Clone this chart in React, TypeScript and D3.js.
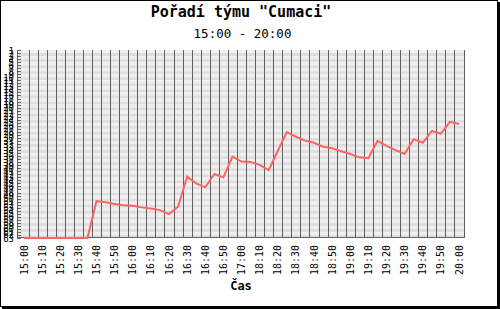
import React from "react";
import * as d3 from "d3";

const categories = [
  "15:00","15:05","15:10","15:15","15:20","15:25","15:30","15:35","15:40","15:45",
  "15:50","15:55","16:00","16:05","16:10","16:15","16:20","16:25","16:30","16:35",
  "16:40","16:45","16:50","16:55","17:00","18:05","18:10","18:15","18:20","18:25",
  "18:30","18:35","18:40","18:45","18:50","18:55","19:00","19:05","19:10","19:15",
  "19:20","19:25","19:30","19:35","19:40","19:45","19:50","19:55","20:00",
];

const rankValues = [
  63, 63, 63, 63, 63, 63, 63, 63, 50.8, 51.2,
  51.8, 52.2, 52.4, 52.9, 53.3, 53.8, 55.1, 52.7, 42.8, 45,
  46.3, 41.9, 43, 36.2, 37.8, 37.9, 38.9, 40.6, 34.3, 28.1,
  29.6, 30.9, 31.6, 32.9, 33.4, 34.4, 35.3, 36.4, 36.7, 31,
  32.6, 34, 35.3, 30.4, 31.6, 27.7, 28.6, 24.7, 25.4,
];

const yTicks = d3.range(1, 64);

const title = 'Pořadí týmu "Cumaci"';
const subtitle = "15:00 - 20:00";
const xTitle = "Čas";

export default function App() {
  const W = 500, H = 309;
  const left = 17, right = 464, top = 50, bottom = 238;
  const x = d3.scalePoint<string>().domain(categories).range([24, 459]);
  const step = x.step();
  const y = d3.scaleLinear().domain([1, 63]).range([top, bottom]);
  const line = d3
    .line<number>()
    .x((_, i) => x(categories[i]) as number)
    .y((d) => y(d));

  const bands = yTicks.slice(0, -1).map((t, i) => ({
    y0: y(t),
    y1: y(t + 1),
    fill: i % 2 === 0 ? "#efefef" : "#dedede",
  }));

  return (
    <svg
      width={W}
      height={H}
      style={{ position: "absolute", left: 0, top: 0, background: "#fff" }}
      fontFamily="DejaVu Sans Mono, monospace"
    >
      <rect x={0} y={0} width={W} height={H} fill="#fff" />
      {bands.map((b, i) => (
        <rect key={i} x={left} y={b.y0} width={right - left} height={b.y1 - b.y0} fill={b.fill} />
      ))}
      {categories.map((c) => {
        const gx = Math.round((x(c) as number) + step / 2) + 0.5;
        return <line key={c} x1={gx} x2={gx} y1={top} y2={bottom} stroke="#606060" strokeWidth={1} />;
      })}
      <line x1={left + 0.5} x2={left + 0.5} y1={top} y2={bottom} stroke="#606060" />
      {yTicks.map((t) => {
        const ty = Math.round(y(t)) + 0.5;
        return <line key={t} x1={left} x2={left + 4} y1={ty} y2={ty} stroke="#606060" />;
      })}
      {yTicks.map((t) => (
        <text key={t} x={14} y={y(t) + 3.5} fontSize={9} textAnchor="end" fill="#000">
          {t}
        </text>
      ))}
      <line x1={left} x2={right} y1={bottom - 0.5} y2={bottom - 0.5} stroke="#606060" />
      <path d={line(rankValues) || ""} fill="none" stroke="#ff6464" strokeWidth={2} />
      {categories
        .filter((_, i) => i % 2 === 0)
        .map((c) => {
          const lx = (x(c) as number) + 3.5;
          return (
            <text
              key={c}
              transform={`translate(${lx},245) rotate(-90)`}
              fontSize={10}
              textAnchor="end"
              fill="#000"
            >
              {c}
            </text>
          );
        })}
      <text x={241} y={290} fontSize={12} fontWeight="bold" textAnchor="middle" fill="#000">
        {xTitle}
      </text>
      <text x={241} y={17} fontSize={15} fontWeight="bold" textAnchor="middle" fill="#000">
        {title}
      </text>
      <text x={242.5} y={37.5} fontSize={12.5} textAnchor="middle" fill="#000">
        {subtitle}
      </text>
      <rect x={0.5} y={0.5} width={497} height={306} fill="none" stroke="#000" />
      <rect x={498} y={2} width={2} height={307} fill="#000" />
      <rect x={2} y={307} width={498} height={2} fill="#000" />
    </svg>
  );
}
